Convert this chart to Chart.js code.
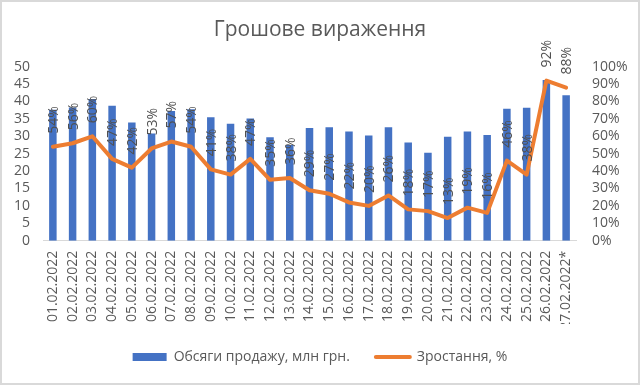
<!DOCTYPE html>
<html>
<head>
<meta charset="utf-8">
<script src="https://cdn.jsdelivr.net/npm/chart.js@4/dist/chart.umd.min.js"></script>
<style>
  html, body { margin: 0; padding: 0; background: #ffffff; }
  canvas { display: block; }
</style>
</head>
<body>
<canvas id="c" width="640" height="385"></canvas>
<script>
const dates = ['01.02.2022','02.02.2022','03.02.2022','04.02.2022','05.02.2022','06.02.2022','07.02.2022',
  '08.02.2022','09.02.2022','10.02.2022','11.02.2022','12.02.2022','13.02.2022','14.02.2022','15.02.2022',
  '16.02.2022','17.02.2022','18.02.2022','19.02.2022','20.02.2022','21.02.2022','22.02.2022','23.02.2022',
  '24.02.2022','25.02.2022','26.02.2022','27.02.2022*'];
const sales = [37.6, 38.3, 40.7, 38.8, 34.0, 30.8, 37.3, 37.8, 35.5, 33.6, 35.1, 29.7, 27.5, 32.4,
  32.6, 31.4, 30.2, 32.6, 28.2, 25.3, 29.9, 31.4, 30.4, 37.9, 38.2, 46.2, 41.8];
const growth = [54, 56, 60, 47, 42, 53, 57, 54, 41, 38, 47, 35, 36, 29, 27, 22, 20, 26, 18, 17, 13, 19,
  16, 46, 38, 92, 88];
const titleText = 'Грошове вираження';
const salesLabel = 'Обсяги продажу, млн грн.';
const growthLabel = 'Зростання, %';

const FONT = '"Open Sans", "Liberation Sans", sans-serif';
const GREY = '#595959';

const bgAndBorder = {
  id: 'bgAndBorder',
  beforeDraw(chart) {
    const ctx = chart.ctx;
    ctx.save();
    ctx.fillStyle = '#ffffff';
    ctx.fillRect(0, 0, chart.width, chart.height);
    ctx.restore();
  },
  afterDraw(chart) {
    const ctx = chart.ctx;
    ctx.save();
    ctx.strokeStyle = '#d9d9d9';
    ctx.lineWidth = 2;
    ctx.strokeRect(1, 1, chart.width - 2, chart.height - 2);
    ctx.restore();
  }
};

const lineLabels = {
  id: 'lineLabels',
  afterDatasetsDraw(chart) {
    const ctx = chart.ctx;
    const meta = chart.getDatasetMeta(1);
    const data = chart.data.datasets[1].data;
    ctx.save();
    ctx.font = '14px ' + FONT;
    ctx.fillStyle = '#505050';
    ctx.textAlign = 'left';
    ctx.textBaseline = 'middle';
    meta.data.forEach((pt, i) => {
      ctx.save();
      ctx.translate(pt.x, pt.y - 13);
      ctx.rotate(-Math.PI / 2);
      ctx.fillText(data[i] + '%', 0, 1);
      ctx.restore();
    });
    ctx.restore();
  }
};

new Chart(document.getElementById('c'), {
  data: {
    labels: dates,
    datasets: [
      {
        type: 'bar',
        label: salesLabel,
        data: sales,
        backgroundColor: '#4472C4',
        borderWidth: 0,
        categoryPercentage: 1,
        barPercentage: 0.38,
        yAxisID: 'y',
        order: 1
      },
      {
        type: 'line',
        label: growthLabel,
        data: growth,
        borderColor: '#ED7D31',
        backgroundColor: '#ED7D31',
        borderWidth: 4,
        borderCapStyle: 'round',
        borderJoinStyle: 'round',
        pointRadius: 0,
        tension: 0,
        yAxisID: 'y1',
        order: 0
      }
    ]
  },
  options: {
    responsive: false,
    animation: false,
    devicePixelRatio: 1,
    layout: { padding: { left: 0, right: 0, top: 0, bottom: 11 } },
    plugins: {
      tooltip: { enabled: false },
      title: {
        display: true,
        text: titleText,
        color: GREY,
        font: { family: FONT, size: 21, weight: 'normal' },
        padding: { top: 17.4, bottom: 24.1 }
      },
      legend: {
        position: 'bottom',
        labels: {
          color: GREY,
          font: { family: FONT, size: 14 },
          usePointStyle: true,
          pointStyleWidth: 34,
          boxHeight: 8,
          padding: 26,
          sort: (a, b) => a.datasetIndex - b.datasetIndex,
          generateLabels(chart) {
            const items = Chart.defaults.plugins.legend.labels.generateLabels(chart);
            items.forEach(it => {
              const ds = chart.data.datasets[it.datasetIndex];
              it.pointStyle = ds.type === 'line' ? 'line' : 'rect';
              if (ds.type === 'line') { it.lineWidth = 4; it.lineCap = 'round'; }
            });
            return items;
          }
        }
      }
    },
    scales: {
      x: {
        grid: { display: false, drawTicks: false },
        border: { display: true, color: '#d9d9d9', width: 1 },
        ticks: {
          color: GREY,
          font: { family: FONT, size: 14 },
          minRotation: 90,
          maxRotation: 90,
          autoSkip: false,
          padding: 10
        },
        afterFit(scale) { scale.height = 83.3; }
      },
      y: {
        position: 'left',
        min: 0,
        max: 50,
        grid: { display: false, drawTicks: false },
        border: { display: false },
        ticks: {
          stepSize: 5,
          autoSkip: false,
          color: GREY,
          font: { family: FONT, size: 14 },
          padding: 13
        },
        afterFit(scale) { scale.width = 43; }
      },
      y1: {
        position: 'right',
        min: 0,
        max: 100,
        grid: { display: false, drawTicks: false },
        border: { display: false },
        ticks: {
          stepSize: 10,
          autoSkip: false,
          color: GREY,
          font: { family: FONT, size: 14 },
          padding: 16,
          callback: v => v + '%'
        },
        afterFit(scale) { scale.width = 64; }
      }
    }
  },
  plugins: [bgAndBorder, lineLabels]
});
</script>
</body>
</html>
